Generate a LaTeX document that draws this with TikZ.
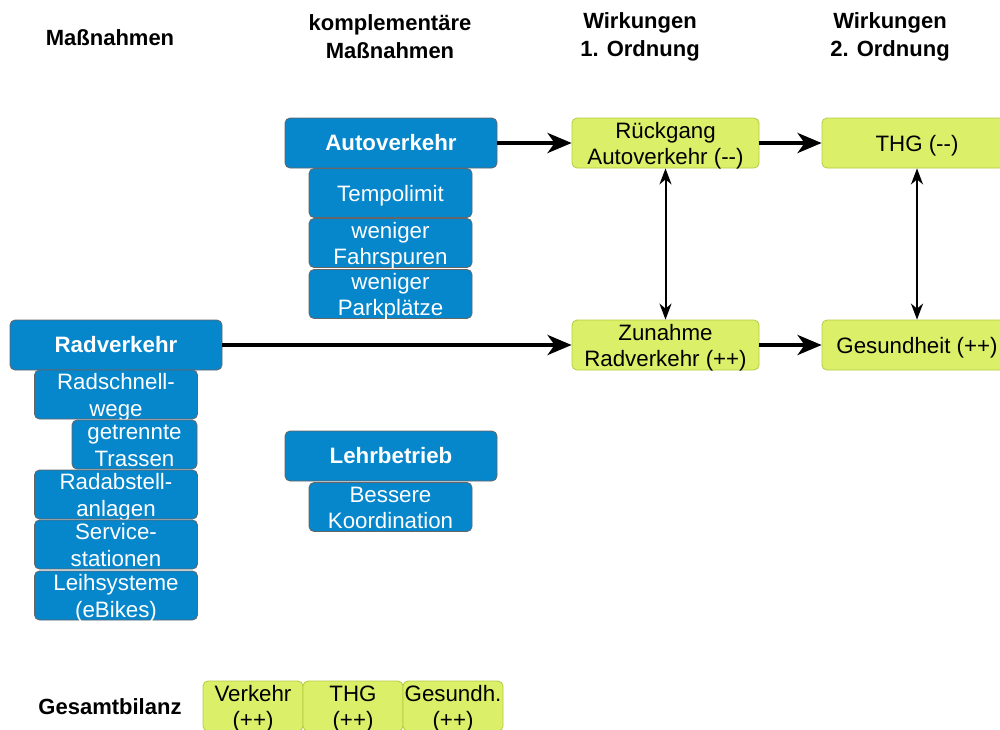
\documentclass[tikz,border=0pt]{standalone}
\usepackage{fontspec}
\setmainfont{Liberation Sans}
\usetikzlibrary{arrows.meta}
\definecolor{bluefill}{HTML}{0686CB}
\definecolor{blueline}{HTML}{666666}
\definecolor{greenfill}{HTML}{DCEF68}
\definecolor{greenline}{HTML}{B2CC3E}
\newcommand{\lowtxt}[1]{\raisebox{-3pt}[\dimexpr\height-8pt\relax][\dimexpr\depth-8pt\relax]{\begin{tabular}{@{}c@{}}#1\end{tabular}}}
\tikzset{
  txt/.style={font=\fontsize{22.3}{26.5}\selectfont, align=center, inner sep=0pt},
  hdr/.style={font=\bfseries\fontsize{22}{28}\selectfont, align=center, inner sep=0pt},
  bluebox/.style={txt, rectangle, rounded corners=5pt, fill=bluefill, draw=blueline, line width=0.8pt, text=white},
  mainbox/.style={bluebox, font=\bfseries\fontsize{22.3}{26.5}\selectfont, minimum width=212pt, minimum height=50pt},
  subbox/.style={bluebox, minimum width=163pt, minimum height=49pt},
  greenbox/.style={txt, rectangle, rounded corners=5pt, fill=greenfill, draw=greenline, line width=0.8pt, text=black, minimum height=50pt},
  bigarrow/.style={line width=4pt, -{Stealth[length=24pt, width=20pt, inset=7pt]}},
  duoarrow/.style={line width=2pt, {Stealth[length=16pt, width=12pt, inset=5pt]}-{Stealth[length=16pt, width=12pt, inset=5pt]}}
}
\begin{document}
\begin{tikzpicture}[x=1pt, y=-1pt]
\useasboundingbox (0,0) rectangle (1000,729);
% headers
\node[hdr] (h1) at (110,38) {Maßnahmen};
\node[hdr] (h2) at (390,37) {komplementäre\\Maßnahmen};
\node[hdr] (h3) at (640,37) {Wirkungen\\1. Ordnung};
\node[hdr] (h4) at (890,37) {Wirkungen\\2. Ordnung};
% Autoverkehr group
\node[mainbox] (auto) at (391,143) {Autoverkehr};
\node[subbox] (tempo) at (390.5,193) {\lowtxt{Tempolimit}};
\node[subbox] (spur) at (390.5,243) {\lowtxt{weniger\\Fahrspuren}};
\node[subbox] (park) at (390.5,294) {\lowtxt{weniger\\Parkplätze}};
% Radverkehr group
\node[mainbox] (rad) at (116,345) {Radverkehr};
\node[subbox] (schnell) at (116,394.5) {\lowtxt{Radschnell-\\wege}};
\node[subbox, minimum width=125pt] (trassen) at (134.5,444.5) {\lowtxt{getrennte\\Trassen}};
\node[subbox] (abstell) at (116,494.5) {\lowtxt{Radabstell-\\anlagen}};
\node[subbox] (service) at (116,544.5) {\lowtxt{Service-\\stationen}};
\node[subbox] (leih) at (116,595.5) {\lowtxt{Leihsysteme\\(eBikes)}};
% Lehrbetrieb group
\node[mainbox] (lehr) at (391,456) {Lehrbetrieb};
\node[subbox] (koord) at (390.5,507) {\lowtxt{Bessere\\Koordination}};
% effects
\node[greenbox, minimum width=187pt] (rueck) at (665.5,143) {\lowtxt{Rückgang\\Autoverkehr (-{}-)}};
\node[greenbox, minimum width=190pt] (thg) at (917,143) {\lowtxt{THG (-{}-)}};
\node[greenbox, minimum width=187pt] (zunahme) at (665.5,345) {\lowtxt{Zunahme\\Radverkehr (++)}};
\node[greenbox, minimum width=190pt] (gesund) at (917,345) {\lowtxt{Gesundheit (++)}};
% connectors
\draw[bigarrow] (auto.east) -- (rueck.west);
\draw[bigarrow] (rad.east) -- (zunahme.west);
\draw[bigarrow] (rueck.east) -- (thg.west);
\draw[bigarrow] (zunahme.east) -- (gesund.west);
\draw[duoarrow] (rueck.south) -- (zunahme.north);
\draw[duoarrow] (thg.south) -- (gesund.north);
% Gesamtbilanz
\node[hdr] (bilanz) at (110,707) {Gesamtbilanz};
\node[greenbox, minimum width=100pt] (bv) at (253,706) {\lowtxt{Verkehr\\(++)}};
\node[greenbox, minimum width=100pt] (bt) at (353,706) {\lowtxt{THG\\(++)}};
\node[greenbox, minimum width=100pt] (bg) at (453,706) {\lowtxt{Gesundh.\\(++)}};
\end{tikzpicture}
\end{document}
